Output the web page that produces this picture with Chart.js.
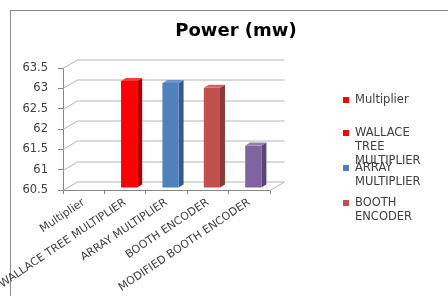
<!DOCTYPE html>
<html><head><meta charset="utf-8">
<script src="https://cdn.jsdelivr.net/npm/chart.js@4"></script>
<style>
html,body{margin:0;padding:0;background:#fff;overflow:hidden}
#wrap{position:relative;width:448px;height:296px;overflow:hidden}
#frame{position:absolute;left:10px;top:10px;width:600px;height:400px;border-top:1px solid #8a8a8a;border-left:1px solid #8a8a8a}
canvas{position:absolute;left:0;top:0}
</style></head><body>
<div id="wrap"><div id="frame"></div><canvas id="c" width="448" height="296"></canvas></div>
<script>
const chartTitle = "Power (mw)";
const categories = ["Multiplier", "WALLACE TREE MULTIPLIER", "ARRAY MULTIPLIER", "BOOTH ENCODER", "MODIFIED BOOTH ENCODER"];
const powerValues = [null, 63.12, 63.07, 62.95, 61.53];
const yTicks = [60.5, 61, 61.5, 62, 62.5, 63, 63.5];
const frontColors = ["#FF0000", "#FF0000", "#4F81BD", "#C0504D", "#8064A2"];
const sideColors = ["#B00000", "#B00000", "#365C8A", "#8C3836", "#5B4677"];
const topColors = ["#FF3A3A", "#FF3A3A", "#6A94C9", "#CB6764", "#957DB3"];
const legendLines = [["Multiplier"], ["WALLACE", "TREE", "MULTIPLIER"], ["ARRAY", "MULTIPLIER"], ["BOOTH", "ENCODER"]];
const legendColors = ["#FF0000", "#FF0000", "#4F81BD", "#C0504D"];

const FONT = "'DejaVu Sans', Verdana, sans-serif";
const DX = 14.5, DY = -8.5;     // wall depth
const OX = 4, OY = -2.5;        // bar front offset
const BDX = 5, BDY = -3;        // bar depth

const wallsPlugin = {
  id: 'walls',
  beforeDatasetsDraw(chart) {
    const ctx = chart.ctx, a = chart.chartArea, ys = chart.scales.y;
    ctx.save();
    ctx.strokeStyle = '#b4b4b4';
    ctx.lineWidth = 1;
    ctx.beginPath();
    yTicks.forEach(v => {
      const y = Math.round(ys.getPixelForValue(v)) + 0.5;
      ctx.moveTo(a.left, y);
      ctx.lineTo(a.left + DX, y + DY);
      ctx.lineTo(a.right + DX, y + DY);
    });
    const b = Math.round(a.bottom) + 0.5;
    ctx.moveTo(a.right, b);
    ctx.lineTo(a.right + DX, b + DY);
    ctx.stroke();
    ctx.restore();
  }
};

const bars3dPlugin = {
  id: 'bars3d',
  afterDatasetsDraw(chart) {
    const ctx = chart.ctx;
    const meta = chart.getDatasetMeta(0);
    const ys = chart.scales.y;
    const basePx = ys.getPixelForValue(ys.min);
    ctx.save();
    meta.data.forEach((el, i) => {
      if (powerValues[i] == null) return;
      const p = el.getProps(['x', 'y', 'width'], true);
      const xl = p.x - p.width / 2 + OX, xr = p.x + p.width / 2 + OX;
      const yt = p.y + OY, yb = basePx + OY;
      ctx.fillStyle = sideColors[i];
      ctx.beginPath();
      ctx.moveTo(xr, yt); ctx.lineTo(xr + BDX, yt + BDY); ctx.lineTo(xr + BDX, yb + BDY); ctx.lineTo(xr, yb);
      ctx.closePath(); ctx.fill();
      ctx.fillStyle = topColors[i];
      ctx.beginPath();
      ctx.moveTo(xl, yt); ctx.lineTo(xl + BDX, yt + BDY); ctx.lineTo(xr + BDX, yt + BDY); ctx.lineTo(xr, yt);
      ctx.closePath(); ctx.fill();
      ctx.fillStyle = frontColors[i];
      ctx.fillRect(xl, yt, xr - xl, yb - yt);
    });
    ctx.restore();
  }
};

const textPlugin = {
  id: 'texts',
  afterDraw(chart) {
    const ctx = chart.ctx;
    ctx.save();
    ctx.fillStyle = '#000';
    ctx.font = "bold 18px " + FONT;
    ctx.textAlign = 'center';
    ctx.textBaseline = 'middle';
    ctx.fillText(chartTitle, 236, 31);
    const itemY = [100, 133, 168, 203];
    ctx.font = "11.5px " + FONT;
    ctx.textAlign = 'left';
    legendLines.forEach((lines, i) => {
      ctx.fillStyle = legendColors[i];
      ctx.fillRect(343, itemY[i] - 3, 6, 6);
      ctx.fillStyle = '#404040';
      lines.forEach((t, j) => ctx.fillText(t, 355, itemY[i] + j * 14));
    });
    ctx.restore();
  }
};

new Chart(document.getElementById('c'), {
  type: 'bar',
  data: {
    labels: categories,
    datasets: [{
      data: powerValues,
      backgroundColor: 'rgba(0,0,0,0)',
      borderWidth: 0,
      barPercentage: 0.39,
      categoryPercentage: 1
    }]
  },
  options: {
    responsive: false,
    animation: false,
    devicePixelRatio: 1,
    layout: { padding: { left: 0, right: 178, top: 68, bottom: 0 } },
    plugins: { legend: { display: false }, tooltip: { enabled: false }, title: { display: false } },
    scales: {
      x: {
        grid: { display: true, drawOnChartArea: false, tickLength: 4, color: '#868686', offset: true },
        border: { display: true, color: '#868686' },
        ticks: { maxRotation: 34, minRotation: 34, autoSkip: false, color: '#404040', font: { family: FONT, size: 11 }, padding: 2 },
        afterFit(s) { s.height = 106; }
      },
      y: {
        min: 60.5, max: 63.5,
        afterBuildTicks(s) { s.ticks = yTicks.map(v => ({ value: v })); },
        ticks: { callback: v => String(v), color: '#404040', font: { family: FONT, size: 11.5 }, padding: 10 },
        grid: { drawOnChartArea: false, tickLength: 5, color: '#868686' },
        border: { display: true, color: '#868686' },
        afterFit(s) { s.width = 63; }
      }
    }
  }
  ,plugins: [wallsPlugin, bars3dPlugin, textPlugin]
});
</script>
</body></html>
